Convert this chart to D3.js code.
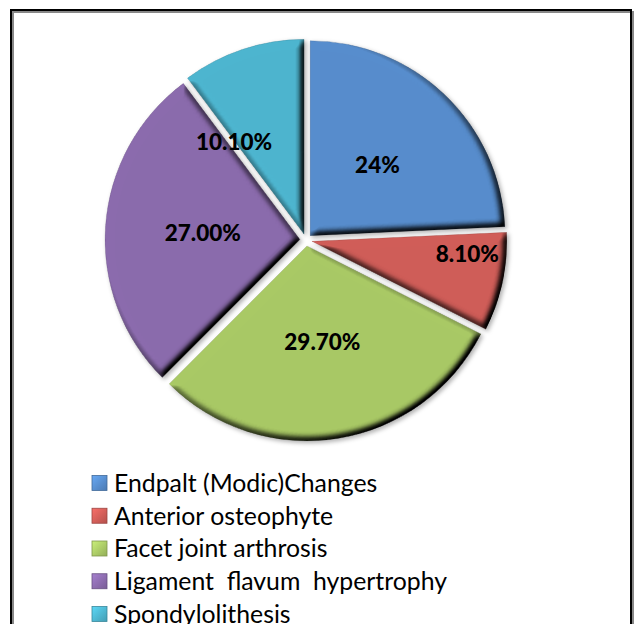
<!DOCTYPE html>
<html><head><meta charset="utf-8">
<script src="https://cdn.jsdelivr.net/npm/d3@7"></script>
<style>body{margin:0;background:#fff}svg{display:block}</style>
</head><body>
<svg id="chart" width="638" height="624"></svg>
<script>
// ---- data ----
const categories = ["Endpalt (Modic)Changes", "Anterior osteophyte", "Facet joint arthrosis", "Ligament  flavum  hypertrophy", "Spondylolithesis"];
const values = [24, 8.1, 29.7, 27.0, 10.1];
const valueLabels = ["24%", "8.10%", "29.70%", "27.00%", "10.10%"];
const palette = ["#578dcd", "#d05d58", "#a9c965", "#8b6bad", "#4db5cf"];

// ---- layout ----
const cx = 306, cy = 240, R = 195, explode = 6;
const svg = d3.select("#chart");

const defs = svg.append("defs");
const f = defs.append("filter").attr("id", "fx")
  .attr("x", "-20%").attr("y", "-20%").attr("width", "140%").attr("height", "140%")
  .attr("color-interpolation-filters", "sRGB");
f.append("feGaussianBlur").attr("in", "SourceAlpha").attr("stdDeviation", 3.5).attr("result", "blur");
const dl = f.append("feDiffuseLighting").attr("in", "blur").attr("surfaceScale", 6)
  .attr("diffuseConstant", 1.3).attr("lighting-color", "#ffffff").attr("result", "light");
dl.append("feDistantLight").attr("azimuth", 225).attr("elevation", 50);
f.append("feComposite").attr("in", "SourceGraphic").attr("in2", "light").attr("operator", "arithmetic")
  .attr("k1", 1).attr("k2", 0).attr("k3", 0).attr("k4", 0).attr("result", "lit");
f.append("feComposite").attr("in", "lit").attr("in2", "SourceAlpha").attr("operator", "in").attr("result", "litc");
f.append("feGaussianBlur").attr("in", "SourceAlpha").attr("stdDeviation", 2).attr("result", "sb");
f.append("feOffset").attr("in", "sb").attr("dx", 1.5).attr("dy", 1.5).attr("result", "so");
f.append("feFlood").attr("flood-color", "#000").attr("flood-opacity", 0.3).attr("result", "fl");
f.append("feComposite").attr("in", "fl").attr("in2", "so").attr("operator", "in").attr("result", "shadow");
const fm = f.append("feMerge");
fm.append("feMergeNode").attr("in", "shadow");
fm.append("feMergeNode").attr("in", "litc");

// frame
svg.append("rect").attr("x", 12).attr("y", 11).attr("width", 620).attr("height", 640)
  .attr("fill", "none").attr("stroke", "#888").attr("stroke-width", 2).attr("transform", "translate(1,1)");
svg.append("rect").attr("x", 11).attr("y", 10).attr("width", 620).attr("height", 640)
  .attr("fill", "none").attr("stroke", "#000").attr("stroke-width", 2);

const pie = d3.pie().sort(null).value(d => d);
const arcs = pie(values);
const arc = d3.arc().innerRadius(0).outerRadius(R);
const color = d3.scaleOrdinal().domain(categories).range(palette);

// best-fit label placement (radius fraction, angle shift in degrees)
const fit = [[0.5, 0], [0.8, -7.6], [0.5, 0], [0.5, 0], [0.594, -18.8]];

const slices = svg.append("g");
arcs.forEach((a, i) => {
  const mid = (a.startAngle + a.endAngle) / 2;
  const ox = cx + explode * Math.sin(mid), oy = cy - explode * Math.cos(mid);
  const g = slices.append("g").attr("transform", `translate(${ox},${oy})`);
  g.append("path").attr("d", arc(a)).attr("fill", color(categories[i]))
    .attr("stroke", d3.color(color(categories[i])).darker(0.6)).attr("stroke-width", 0.6)
    .attr("filter", "url(#fx)");
});

const labels = svg.append("g");
arcs.forEach((a, i) => {
  const mid = (a.startAngle + a.endAngle) / 2;
  const ox = cx + explode * Math.sin(mid), oy = cy - explode * Math.cos(mid);
  const ang = mid + fit[i][1] * Math.PI / 180, rr = R * fit[i][0];
  labels.append("text")
    .attr("x", ox + rr * Math.sin(ang)).attr("y", oy - rr * Math.cos(ang))
    .attr("text-anchor", "middle").attr("dy", "0.36em")
    .attr("font-family", "Lato, 'Open Sans', sans-serif").attr("font-weight", 900)
    .attr("font-size", 22.5).attr("fill", "#000")
    .text(valueLabels[i]);
});

// legend
const leg = svg.append("g");
const ly = d3.scalePoint().domain(categories).range([483, 614]);
categories.forEach((c, i) => {
  const y = ly(c);
  const grad = defs.append("linearGradient").attr("id", "lg" + i)
    .attr("x1", 0).attr("y1", 0).attr("x2", 1).attr("y2", 1);
  grad.append("stop").attr("offset", 0).attr("stop-color", d3.color(color(c)).brighter(0.5));
  grad.append("stop").attr("offset", 1).attr("stop-color", d3.color(color(c)).darker(0.4));
  leg.append("rect").attr("x", 92).attr("y", y - 7.5).attr("width", 15).attr("height", 15)
    .attr("fill", `url(#lg${i})`).attr("stroke", d3.color(color(c)).darker(0.8)).attr("stroke-width", 0.8);
  leg.append("text").attr("x", 114).attr("y", y).attr("dy", "0.36em")
    .attr("font-family", "Lato, 'Open Sans', sans-serif").attr("font-size", 24.8)
    .attr("fill", "#000").style("white-space", "pre").text(c);
});
</script>
</body></html>
